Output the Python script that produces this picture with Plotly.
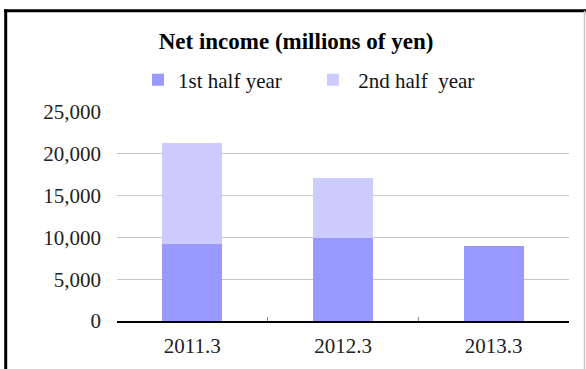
import plotly.graph_objects as go

# Fiscal years (ending March) and half-year net income, millions of yen
years = ["2011.3", "2012.3", "2013.3"]
first_half = [9200, 9920, 8960]
second_half = [12080, 7210, None]
series_names = ["1st half year", "\u00a02nd half\u00a0 year"]
y_ticks = [0, 5000, 10000, 15000, 20000, 25000]

SERIF = "'Liberation Serif', 'Times New Roman', 'DejaVu Serif', serif"
W, H = 586, 369
ML, MR, MT, MB = 117, 17, 112, 48
PW, PH = W - ML - MR, H - MT - MB


def px_x(p):
    return (p - ML) / PW


def px_y(p):
    return (H - MB - p) / PH


fig = go.Figure()
fig.add_trace(go.Bar(x=years, y=first_half, name=series_names[0],
                     marker=dict(color="#9999FF", line=dict(width=0))))
fig.add_trace(go.Bar(x=years, y=second_half, name=series_names[1],
                     marker=dict(color="#CCCCFF", line=dict(width=0))))

fig.update_layout(
    width=W, height=H,
    margin=dict(l=ML, r=MR, t=MT, b=MB, pad=0, autoexpand=False),
    paper_bgcolor="white", plot_bgcolor="white",
    barmode="stack", bargap=0.6,
    font=dict(family=SERIF, size=21, color="#222"),
    title=dict(text="<b>Net income (millions of yen)</b>",
               font=dict(family=SERIF, size=23, color="black"),
               x=296 / W, xanchor="center", y=1 - 41 / H, yanchor="middle"),
    legend=dict(orientation="h", x=px_x(138), xanchor="left",
                y=px_y(80), yanchor="middle",
                font=dict(family=SERIF, size=21, color="#111"),
                entrywidth=130, entrywidthmode="pixels",
                bgcolor="rgba(0,0,0,0)", traceorder="normal"),
    showlegend=True,
)

fig.update_xaxes(
    type="category", showgrid=False, zeroline=False, automargin=False,
    showline=True, linecolor="black", linewidth=1.5,
    ticks="inside", tickson="boundaries", ticklen=4, tickcolor="#888", tickwidth=1,
    ticklabelstandoff=5,
)
fig.update_yaxes(
    range=[0, 25000], tickvals=y_ticks, tickformat=",", automargin=False,
    showgrid=True, gridcolor="#c4c4c4", gridwidth=1.2,
    zeroline=False, showline=False, ticks="",
    ticklabelstandoff=15,
)

# chart frame: heavy top and left edges, thin grey right edge
fig.add_shape(type="line", xref="paper", yref="paper",
              x0=px_x(4), x1=px_x(586), y0=px_y(10.8), y1=px_y(10.8),
              line=dict(color="black", width=3))
fig.add_shape(type="line", xref="paper", yref="paper",
              x0=px_x(5.7), x1=px_x(5.7), y0=px_y(9.5), y1=px_y(380),
              line=dict(color="black", width=3))
fig.add_shape(type="line", xref="paper", yref="paper",
              x0=px_x(584.5), x1=px_x(584.5), y0=px_y(10.8), y1=px_y(380),
              line=dict(color="#c8c8c8", width=1.5))

fig.write_html("out.html")
